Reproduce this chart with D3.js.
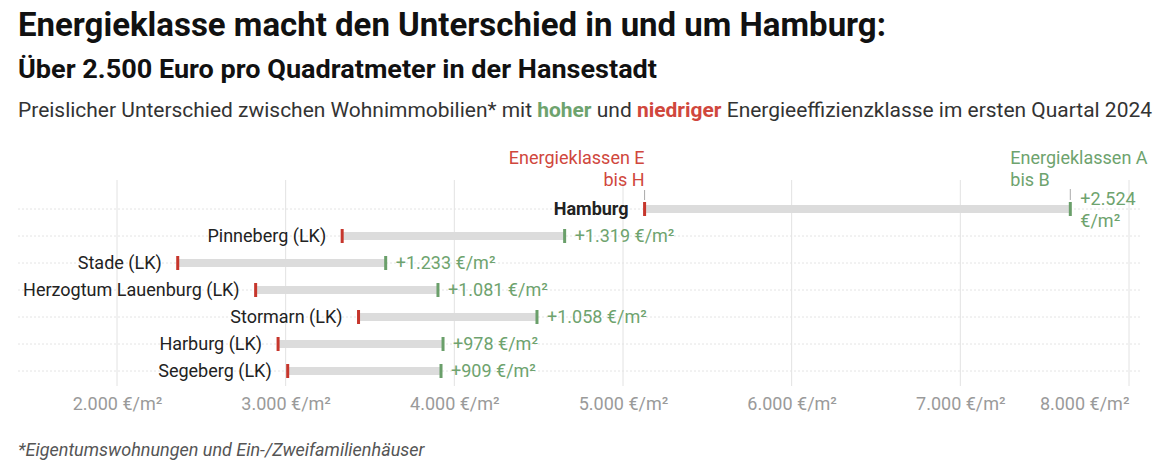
<!DOCTYPE html>
<html><head><meta charset="utf-8">
<script src="https://cdn.jsdelivr.net/npm/d3@7"></script>
<style>
body{margin:0;background:#fff;font-family:Roboto,sans-serif;}
svg{display:block}
</style></head>
<body><svg id="c" width="1169" height="471"></svg>
<script>
const regions = ["Hamburg","Pinneberg (LK)","Stade (LK)","Herzogtum Lauenburg (LK)","Stormarn (LK)","Harburg (LK)","Segeberg (LK)"];
const lowClass = [5128,3335,2360,2822,3432,2955,3012];   // Energieklassen E bis H
const highClass = [7652,4654,3593,3903,4490,3933,3921];  // Energieklassen A bis B
const diffLabels = ["+2.524 €/m²","+1.319 €/m²","+1.233 €/m²","+1.081 €/m²","+1.058 €/m²","+978 €/m²","+909 €/m²"];
const xTicks = [2000,3000,4000,5000,6000,7000,8000];
const xTickLabels = ["2.000 €/m²","3.000 €/m²","4.000 €/m²","5.000 €/m²","6.000 €/m²","7.000 €/m²","8.000 €/m²"];

const RED="#c6362c", GREEN="#6a9f6a", REDT="#d0473d", GREENT="#6ea36e";
const FS=18;
const svg=d3.select("#c");
const x=d3.scaleLinear().domain([2000,8000]).range([117,1129]);
const y=d3.scalePoint().domain(regions).range([209,371]);

// titles
svg.append("text").attr("x",18).attr("y",36).attr("font-size",33).attr("font-weight",700).attr("fill","#111")
  .attr("textLength",868).attr("lengthAdjust","spacingAndGlyphs")
  .text("Energieklasse macht den Unterschied in und um Hamburg:");
svg.append("text").attr("x",18).attr("y",78).attr("font-size",26).attr("font-weight",700).attr("fill","#111")
  .attr("textLength",639).attr("lengthAdjust","spacingAndGlyphs")
  .text("Über 2.500 Euro pro Quadratmeter in der Hansestadt");
const d=svg.append("text").attr("x",18).attr("y",117).attr("font-size",20.5).attr("fill","#333")
  .attr("textLength",1134).attr("lengthAdjust","spacingAndGlyphs");
d.append("tspan").text("Preislicher Unterschied zwischen Wohnimmobilien* mit ");
d.append("tspan").attr("font-weight",700).attr("fill",GREENT).text("hoher");
d.append("tspan").text(" und ");
d.append("tspan").attr("font-weight",700).attr("fill",REDT).text("niedriger");
d.append("tspan").text(" Energieeffizienzklasse im ersten Quartal 2024");

// grid
svg.append("g").selectAll("line").data(xTicks).join("line")
  .attr("x1",v=>x(v)).attr("x2",v=>x(v)).attr("y1",180).attr("y2",386)
  .attr("stroke","#e2e2e2").attr("stroke-width",1);
svg.append("g").selectAll("line").data(regions).join("line")
  .attr("x1",18).attr("x2",1140).attr("y1",r=>y(r)).attr("y2",r=>y(r))
  .attr("stroke","#e4e4e4").attr("stroke-dasharray","2,2").attr("stroke-width",1);

// axis
const ax=svg.append("g").attr("transform","translate(0,386)")
  .call(d3.axisBottom(x).tickValues(xTicks).tickSize(0).tickPadding(11).tickFormat((v,i)=>xTickLabels[i]));
ax.select(".domain").remove();
ax.selectAll("text").attr("font-family","Roboto,sans-serif").attr("font-size",FS).attr("fill","#9a9a9a")
  .attr("text-anchor",(v,i)=>i===xTicks.length-1?"end":"middle");

// bars
const rows=svg.append("g").selectAll("g").data(regions).join("g");
rows.append("rect").attr("x",(r,i)=>x(lowClass[i])).attr("width",(r,i)=>x(highClass[i])-x(lowClass[i]))
  .attr("y",r=>y(r)-4).attr("height",8).attr("fill","#dcdcdc");
rows.append("rect").attr("x",(r,i)=>x(lowClass[i])-1.5).attr("width",3).attr("y",r=>y(r)-7).attr("height",14).attr("fill",RED);
rows.append("rect").attr("x",(r,i)=>x(highClass[i])-1.5).attr("width",3).attr("y",r=>y(r)-7).attr("height",14).attr("fill",GREEN);
rows.append("text").attr("x",(r,i)=>x(lowClass[i])-16).attr("y",r=>y(r)+6).attr("text-anchor","end")
  .attr("font-size",FS).attr("fill","#222").attr("font-weight",(r,i)=>i===0?700:400).text(r=>r);
rows.filter((r,i)=>i>0).append("text").attr("x",r=>x(highClass[regions.indexOf(r)])+10).attr("y",r=>y(r)+6)
  .attr("font-size",FS).attr("fill",GREENT).text(r=>diffLabels[regions.indexOf(r)]);
// Hamburg wrapped label
const hl=svg.append("text").attr("font-size",FS).attr("fill",GREENT);
const parts=diffLabels[0].split(" ");
hl.append("tspan").attr("x",x(highClass[0])+10).attr("y",y(regions[0])-4).text(parts[0]);
hl.append("tspan").attr("x",x(highClass[0])+10).attr("y",y(regions[0])+18).text(parts[1]);

// annotations
svg.append("line").attr("x1",x(lowClass[0])).attr("x2",x(lowClass[0])).attr("y1",190).attr("y2",200).attr("stroke","#aaa");
svg.append("line").attr("x1",x(highClass[0])).attr("x2",x(highClass[0])).attr("y1",189).attr("y2",200).attr("stroke","#aaa");
const a1=svg.append("text").attr("text-anchor","end").attr("font-size",FS).attr("fill",REDT);
a1.append("tspan").attr("x",x(lowClass[0])).attr("y",164).text("Energieklassen E");
a1.append("tspan").attr("x",x(lowClass[0])).attr("y",186).text("bis H");
const a2=svg.append("text").attr("text-anchor","start").attr("font-size",FS).attr("fill",GREENT);
a2.append("tspan").attr("x",x(highClass[0])-60).attr("y",164).text("Energieklassen A");
a2.append("tspan").attr("x",x(highClass[0])-60).attr("y",186).text("bis B");

svg.append("text").attr("x",18).attr("y",456).attr("font-size",18).attr("font-style","italic").attr("fill","#555")
  .text("*Eigentumswohnungen und Ein-/Zweifamilienhäuser");
</script></body></html>
